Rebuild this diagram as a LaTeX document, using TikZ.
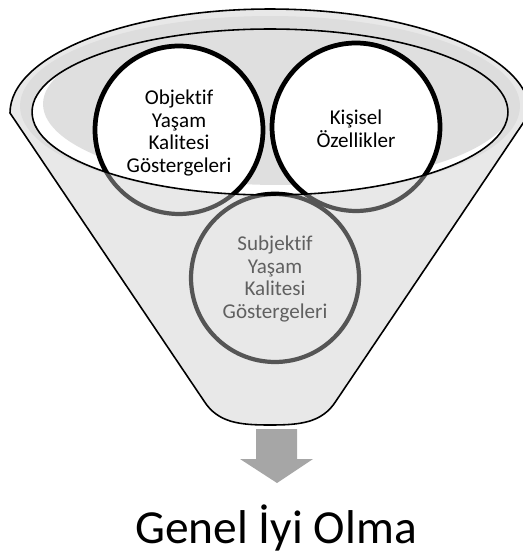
\documentclass[tikz,border=0pt]{standalone}
\usepackage{fontspec}
\setmainfont{Carlito}[Ligatures=NoCommon]
\usepackage{tikz}
\usetikzlibrary{positioning}

\definecolor{funnelgray}{HTML}{E8E8E8}
\definecolor{bandgray}{HTML}{DDDDDD}
\definecolor{innergray}{HTML}{DFDFDF}
\definecolor{ringgray}{HTML}{555555}
\definecolor{subjgray}{HTML}{606060}
\definecolor{arrowgray}{HTML}{A6A6A6}

\begin{document}
\begin{tikzpicture}[x=0.02cm, y=-0.02cm,
    outline/.style={draw=black, line width=0.9pt},
    backring/.style={draw=ringgray, line width=2.4pt},
    frontring/.style={draw=black, line width=2.7pt, fill=white},
    ringlabel/.style={align=center, font=\fontsize{12}{13}\selectfont}]
    \useasboundingbox (0,0) rectangle (523,557);
    \clip (0,0) rectangle (523,557);

    % Funnel body
    % ---------------------
    \filldraw[outline, fill=funnelgray] (10,113) arc[start angle=180, end angle=0, x radius=5.2cm, y radius=2.08cm]
        -- (336,401) .. controls (322,423) and (300,425) .. (270,425)
        .. controls (240,425) and (218,423) .. (204,401) -- cycle;
    \fill[bandgray] (270,106) ellipse [x radius=5.0cm, y radius=1.8cm];

    % Rings behind the funnel
    % ---------------------
    \draw[backring] (179,130) circle [radius=1.68cm];
    \draw[backring] (356,127) circle [radius=1.68cm];
    \draw[backring] (275,278) circle [radius=1.68cm];

    % Opening of the funnel
    % ---------------------
    \fill[white] (270,112) ellipse [x radius=4.76cm, y radius=1.66cm];
    \begin{scope}
        \clip (270,112) ellipse [x radius=4.76cm, y radius=1.66cm];
        \fill[innergray] (278,104) ellipse [x radius=4.7cm, y radius=1.62cm];
        \draw[frontring] (179,130) circle [radius=1.68cm];
        \draw[frontring] (356,127) circle [radius=1.68cm];
        \draw[frontring, fill=none] (275,278) circle [radius=1.68cm];
    \end{scope}
    \draw[outline] (270,112) ellipse [x radius=4.76cm, y radius=1.66cm];

    % Labels
    % ---------------------
    \node[ringlabel] (objektif) at (179,133) {Objektif\\Yaşam\\Kalitesi\\Göstergeleri};
    \node[ringlabel] (kisisel) at (356,129) {Kişisel\\Özellikler};
    \node[ringlabel, text=subjgray] (subjektif) at (275,279) {Subjektif\\Yaşam\\Kalitesi\\Göstergeleri};

    % Output arrow and result
    % ---------------------
    \fill[arrowgray] (256,429) -- (297,429) -- (297,459) -- (313,459) -- (277,483) -- (240,459) -- (256,459) -- cycle;
    \node[font=\fontsize{27}{32}\selectfont, anchor=base] (genel) at (276,543) {Genel İyi Olma};
\end{tikzpicture}
\end{document}
